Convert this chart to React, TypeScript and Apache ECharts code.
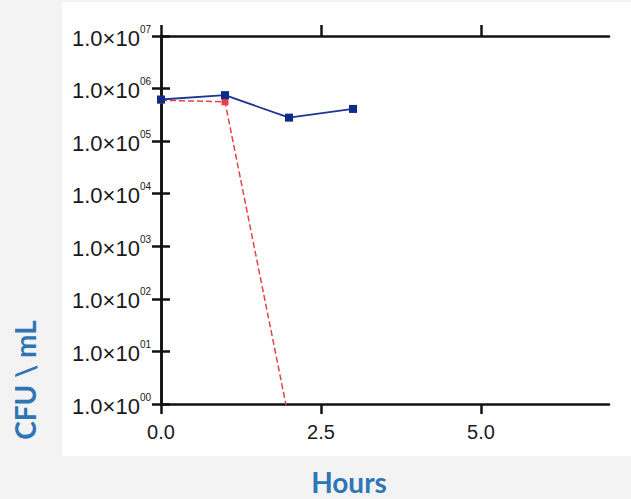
import React, { useEffect, useRef } from "react";
import * as echarts from "echarts";

const hours = [0, 1, 2, 3];
const untreated = [6.2e5, 7.5e5, 2.8e5, 4.1e5];
const treatedHours = [0, 1, 2];
const treated = [6.0e5, 5.6e5, 0.5];
const xTicks = [0, 2.5, 5];
const yTitle = "CFU \\ mL";
const xTitle = "Hours";

const FONT = "'Liberation Sans', Arial, sans-serif";
const TITLE_FONT = "Lato, 'Open Sans', sans-serif";
const TITLE_COLOR = "#2e75b6";
const AXIS_COLOR = "#111111";

export default function App() {
  const ref = useRef<HTMLDivElement>(null);
  useEffect(() => {
    if (!ref.current) return;
    const chart = echarts.init(ref.current, null, { renderer: "svg" });
    const lineStyle = { color: AXIS_COLOR, width: 2.5 };
    chart.setOption({
      animation: false,
      backgroundColor: "#f3f3f3",
      grid: { left: 161, top: 36, width: 448, height: 368 },
      graphic: [
        {
          type: "rect",
          z: -10,
          silent: true,
          shape: { x: 62, y: 2, width: 569, height: 454 },
          style: { fill: "#ffffff" },
        },
        {
          type: "text",
          x: 349,
          y: 482,
          style: {
            text: xTitle,
            font: `bold 28px ${TITLE_FONT}`,
            lineHeight: 26,
            fill: TITLE_COLOR,
            align: "center",
            verticalAlign: "middle",
          },
        },
        {
          type: "text",
          x: 25,
          y: 380,
          rotation: Math.PI / 2,
          style: {
            text: yTitle,
            font: `bold 28px ${TITLE_FONT}`,
            lineHeight: 26,
            fill: TITLE_COLOR,
            align: "center",
            verticalAlign: "middle",
          },
        },
      ],
      xAxis: [
        {
          type: "value",
          position: "bottom",
          min: 0,
          max: 7,
          axisLine: { show: true, lineStyle },
          axisTick: { show: true, length: 10, lineStyle, customValues: xTicks },
          axisLabel: {
            customValues: xTicks,
            formatter: (v: number) => v.toFixed(1),
            fontSize: 20,
            fontFamily: FONT,
            color: "#1a1a1a",
            margin: 18,
          },
          splitLine: { show: false },
        },
        {
          type: "value",
          position: "top",
          min: 0,
          max: 7,
          axisLine: { show: true, lineStyle },
          axisTick: { show: true, length: 11, lineStyle, customValues: xTicks },
          axisLabel: { show: false },
          splitLine: { show: false },
        },
      ],
      yAxis: [
        {
          type: "log",
          logBase: 10,
          min: 1,
          max: 1e7,
          position: "left",
          axisLine: { show: true, lineStyle },
          axisTick: { show: true, length: 9, lineStyle },
          axisLabel: {
            margin: 10,
            formatter: (v: number) => {
              const e = Math.round(Math.log10(v));
              return `{b|1.0×10}{s|${String(e).padStart(2, "0")}}`;
            },
            rich: {
              b: { fontSize: 22, fontFamily: FONT, color: "#1a1a1a", lineHeight: 24, padding: [4, 0, 0, 0] },
              s: { fontSize: 10, fontFamily: FONT, color: "#1a1a1a", lineHeight: 11, verticalAlign: "top" },
            },
          },
          splitLine: { show: false },
        },
        {
          type: "log",
          logBase: 10,
          min: 1,
          max: 1e7,
          position: "right",
          axisLine: { show: true, lineStyle },
          axisTick: { show: true, length: 9, lineStyle },
          axisLabel: { show: false },
          splitLine: { show: false },
        },
      ],
      series: [
        {
          type: "line",
          xAxisIndex: 0,
          yAxisIndex: 0,
          clip: true,
          data: treatedHours.map((h, i) => [h, treated[i]]),
          symbol: "rect",
          symbolSize: 7,
          itemStyle: { color: "#e8404a" },
          lineStyle: { color: "#e8404a", width: 1.5, type: "dashed" },
        },
        {
          type: "line",
          xAxisIndex: 0,
          yAxisIndex: 0,
          clip: true,
          data: hours.map((h, i) => [h, untreated[i]]),
          symbol: "rect",
          symbolSize: 8,
          itemStyle: { color: "#0d2b8a" },
          lineStyle: { color: "#1f3592", width: 1.8 },
        },
      ],
    });
    return () => chart.dispose();
  }, []);
  return (
    <div
      ref={ref}
      style={{ position: "absolute", left: 0, top: 0, width: 631, height: 499 }}
    />
  );
}
